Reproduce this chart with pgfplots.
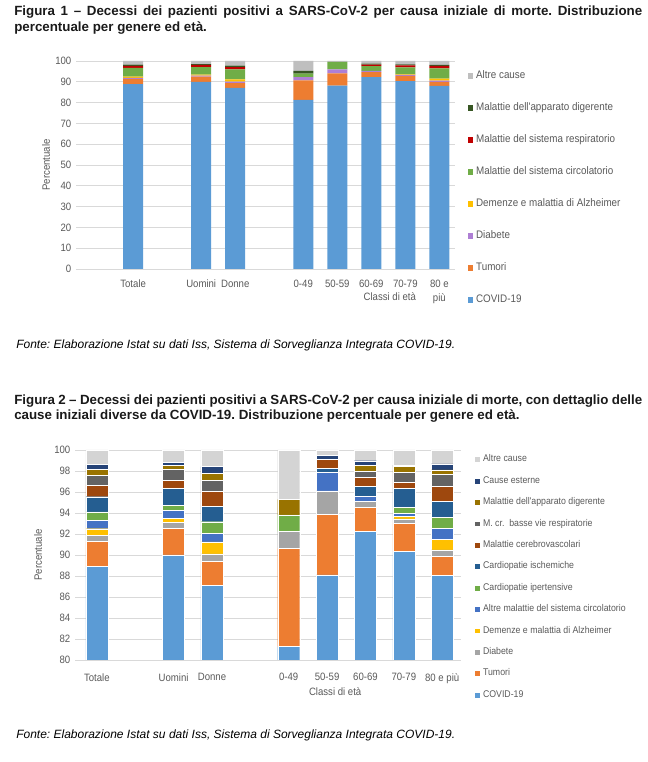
\documentclass[border=0pt]{standalone}
\usepackage{fontspec}
\setmainfont{Liberation Sans}
\newfontfamily\narrowfont{Liberation Sans}[FakeStretch=0.9]
\usepackage{pgfplots}
\usepackage{pgfplotstable}
\pgfplotsset{compat=1.18}

\definecolor{tickgray}{HTML}{595959}
\definecolor{gridgray}{HTML}{D9D9D9}
\definecolor{titlecol}{HTML}{1A1A1A}
\definecolor{cCovid}{HTML}{5B9BD5}
\definecolor{cTumori}{HTML}{ED7D31}
\definecolor{cDiabA}{HTML}{AE7FD4}
\definecolor{cDem}{HTML}{FFC000}
\definecolor{cCirc}{HTML}{70AD47}
\definecolor{cResp}{HTML}{C00000}
\definecolor{cDigA}{HTML}{375623}
\definecolor{cAltreA}{HTML}{BFBFBF}
\definecolor{cDiabB}{HTML}{A5A5A5}
\definecolor{cAltreCirc}{HTML}{4472C4}
\definecolor{cIpert}{HTML}{70AD47}
\definecolor{cIschem}{HTML}{255E91}
\definecolor{cCerebro}{HTML}{9E480E}
\definecolor{cMcr}{HTML}{636363}
\definecolor{cDigB}{HTML}{997300}
\definecolor{cEsterne}{HTML}{264478}
\definecolor{cAltreB}{HTML}{D4D4D4}

% Figura 1
\pgfplotstableread{
x covid tumori diabete demenze circ resp dig altre
0 88.9 2.4 0.6 0.6 4.2 1.0 0.5 1.8
2 90.0 2.5 0.5 0.4 3.6 1.1 0.4 1.5
3 87.1 2.3 0.7 1.1 4.8 1.1 0.7 2.2
5 81.3 9.4 1.5 0.0 1.7 0.0 1.4 4.7
6 88.1 6.0 1.9 0.0 3.6 0.0 0.0 0.4
7 92.3 2.3 0.6 0.0 2.3 0.8 0.4 1.3
8 90.3 2.6 0.4 0.3 3.3 1.0 0.5 1.6
9 88.0 1.9 0.6 1.0 5.0 1.2 0.4 1.9
}\figA

% Figura 2
\pgfplotstableread{
x covid tumori diabete demenze altrecirc ipert ischem cerebro mcr dig esterne altre
0 88.90 2.40 0.60 0.60 0.80 0.80 1.45 1.10 0.95 0.55 0.45 1.40
2 90.00 2.54 0.54 0.41 0.73 0.48 1.65 0.76 1.05 0.38 0.26 1.20
3 87.10 2.30 0.70 1.14 0.82 1.11 1.43 1.43 1.05 0.67 0.66 1.59
5 81.27 9.36 1.59 0.00 0.00 1.59 0.00 0.00 0.00 1.49 0.00 4.70
6 88.10 5.80 2.20 0.00 1.77 0.00 0.38 0.85 0.00 0.00 0.42 0.48
7 92.22 2.29 0.63 0.00 0.42 0.00 0.95 0.89 0.54 0.63 0.41 1.02
8 90.32 2.70 0.41 0.22 0.32 0.54 1.84 0.54 0.98 0.54 0.16 1.43
9 88.03 1.87 0.58 1.04 1.02 1.02 1.52 1.43 1.17 0.42 0.57 1.33
}\figB

\pgfplotsset{
  istat/.style={
    scale only axis,
    ybar stacked,
    axis line style={draw=none},
    major tick length=0pt,
    tick style={draw=none},
    ymajorgrids,
    major grid style={draw=gridgray, line width=0.6pt},
    xtick={0,2,3,5,6,7,8,9},
    ticklabel style={font=\narrowfont\fontsize{8}{10.5}\selectfont, text=tickgray},
    /pgf/number format/assume math mode=true,
    label style={font=\narrowfont\fontsize{8}{9.5}\selectfont, text=tickgray},
    legend cell align=left,
    reverse legend,
    legend image code/.code={\fill[##1] (0pt,-2.2pt) rectangle (4.4pt,2.2pt);},
  },
}

\begin{document}
\frenchspacing
\begin{tikzpicture}
\path[use as bounding box] (0,0) rectangle (486pt,571.5pt);

\node[anchor=north west, inner sep=0pt, text width=471pt, align=justify,
      font=\bfseries\fontsize{10}{11.4}\selectfont, text=titlecol] at (10.5pt,567pt)
  {Figura 1 -- Decessi dei pazienti positivi a SARS-CoV-2 per causa iniziale di morte. Distribuzione\linebreak percentuale per genere ed età.};

\begin{axis}[istat,
  at={(57pt,369.75pt)}, anchor=south west,
  width=284.25pt, height=156pt,
  xmin=-1.68, xmax=9.46, ymin=0, ymax=100,
  ytick={0,10,...,100},
  bar width=15pt,
  xticklabels={Totale,Uomini,Donne,0-49,50-59,60-69,70-79,{80 e\\più}},
  xticklabel style={align=center, yshift=-4.5pt},
  ylabel={Percentuale},
  ylabel style={at={(axis description cs:-0.079,0.5)}, anchor=center},
  xlabel={Classi di età},
  xlabel style={at={(axis description cs:0.828,-0.135)}, anchor=center},
  legend style={draw=none, fill=none, at={(1.022,0.965)}, anchor=north west,
    font=\narrowfont\fontsize{8.2}{9.5}\selectfont, text=tickgray,
    row sep=17pt, column sep=2pt,
    nodes={inner sep=0pt, text height=5.5pt, text depth=1.5pt}},
]
\addplot[fill=cCovid, draw=none] table[x=x, y=covid] {\figA};
\addplot[fill=cTumori, draw=none] table[x=x, y=tumori] {\figA};
\addplot[fill=cDiabA, draw=none] table[x=x, y=diabete] {\figA};
\addplot[fill=cDem, draw=none] table[x=x, y=demenze] {\figA};
\addplot[fill=cCirc, draw=none] table[x=x, y=circ] {\figA};
\addplot[fill=cResp, draw=none] table[x=x, y=resp] {\figA};
\addplot[fill=cDigA, draw=none] table[x=x, y=dig] {\figA};
\addplot[fill=cAltreA, draw=none] table[x=x, y=altre] {\figA};
\legend{COVID-19,Tumori,Diabete,Demenze e malattia di Alzheimer,Malattie del sistema circolatorio,Malattie del sistema respiratorio,Malattie dell'apparato digerente,Altre cause}
\end{axis}

\node[anchor=west, inner sep=0pt, font=\itshape\fontsize{9}{10}\selectfont] at (12pt,312.75pt)
  {Fonte: Elaborazione Istat su dati Iss, Sistema di Sorveglianza Integrata COVID-19.};

\node[anchor=north west, inner sep=0pt, text width=471pt, align=justify,
      font=\bfseries\fontsize{10}{11.4}\selectfont, text=titlecol] at (10.5pt,275.5pt)
  {Figura 2 -- Decessi dei pazienti positivi a SARS-CoV-2 per causa iniziale di morte, con dettaglio delle\linebreak cause iniziali diverse da COVID-19. Distribuzione percentuale per genere ed età.};

\begin{axis}[istat,
  at={(56.25pt,76.5pt)}, anchor=south west,
  width=289.5pt, height=157.5pt,
  xmin=-0.57, xmax=9.49, ymin=80, ymax=100,
  ytick={80,82,...,100},
  bar width=16.5pt,
  xticklabels={Totale,Uomini,Donne,0-49,50-59,60-69,70-79,80 e più},
  xticklabel style={yshift=-6.5pt},
  ylabel={Percentuale},
  ylabel style={at={(axis description cs:-0.096,0.5)}, anchor=center},
  xlabel={Classi di età},
  xlabel style={at={(axis description cs:0.674,-0.152)}, anchor=center},
  legend style={draw=none, fill=none, at={(1.023,0.99)}, anchor=north west,
    font=\narrowfont\fontsize{7.3}{8.5}\selectfont, text=tickgray,
    row sep=9.35pt, column sep=2pt,
    nodes={inner sep=0pt, text height=5.2pt, text depth=1.5pt}},
]
\addplot[fill=cCovid, draw=white, line width=0.3pt] table[x=x, y=covid] {\figB};
\addplot[fill=cTumori, draw=white, line width=0.3pt] table[x=x, y=tumori] {\figB};
\addplot[fill=cDiabB, draw=white, line width=0.3pt] table[x=x, y=diabete] {\figB};
\addplot[fill=cDem, draw=white, line width=0.3pt] table[x=x, y=demenze] {\figB};
\addplot[fill=cAltreCirc, draw=white, line width=0.3pt] table[x=x, y=altrecirc] {\figB};
\addplot[fill=cIpert, draw=white, line width=0.3pt] table[x=x, y=ipert] {\figB};
\addplot[fill=cIschem, draw=white, line width=0.3pt] table[x=x, y=ischem] {\figB};
\addplot[fill=cCerebro, draw=white, line width=0.3pt] table[x=x, y=cerebro] {\figB};
\addplot[fill=cMcr, draw=white, line width=0.3pt] table[x=x, y=mcr] {\figB};
\addplot[fill=cDigB, draw=white, line width=0.3pt] table[x=x, y=dig] {\figB};
\addplot[fill=cEsterne, draw=white, line width=0.3pt] table[x=x, y=esterne] {\figB};
\addplot[fill=cAltreB, draw=white, line width=0.3pt] table[x=x, y=altre] {\figB};
\legend{COVID-19,Tumori,Diabete,Demenze e malattia di Alzheimer,Altre malattie del sistema circolatorio,Cardiopatie ipertensive,Cardiopatie ischemiche,Malattie cerebrovascolari,M. cr.\ \ basse vie respiratorie,Malattie dell'apparato digerente,Cause esterne,Altre cause}
\end{axis}

\node[anchor=west, inner sep=0pt, font=\itshape\fontsize{9}{10}\selectfont] at (12pt,20.25pt)
  {Fonte: Elaborazione Istat su dati Iss, Sistema di Sorveglianza Integrata COVID-19.};
\end{tikzpicture}
\end{document}
